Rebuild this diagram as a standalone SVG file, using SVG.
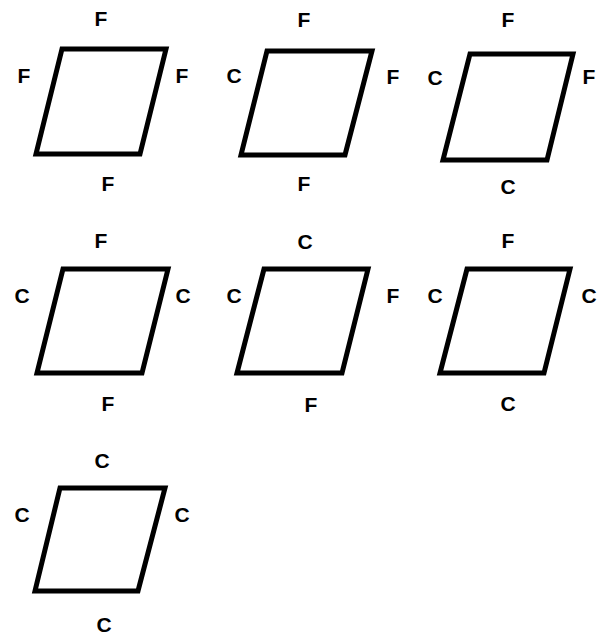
<svg xmlns="http://www.w3.org/2000/svg" width="599" height="635" viewBox="0 0 599 635">
<style>
.p{fill:none;stroke:#000;stroke-width:5;stroke-linejoin:miter}
.t{font-family:"Liberation Sans",Arial,sans-serif;font-weight:bold;font-size:21px;text-anchor:middle;fill:#000}
</style>
<rect width="599" height="635" fill="#fff"/>
<g id="tile1">
<polygon class="p" points="62,49 166,49 140,154 36,154"/>
<text class="t" x="101" y="26">F</text>
<text class="t" x="24" y="83">F</text>
<text class="t" x="182" y="83">F</text>
<text class="t" x="108" y="191">F</text>
</g>
<g id="tile2">
<polygon class="p" points="267,51 372,51 345,155 241,155"/>
<text class="t" x="304" y="27">F</text>
<text class="t" x="234" y="83">C</text>
<text class="t" x="393" y="84">F</text>
<text class="t" x="304" y="191">F</text>
</g>
<g id="tile3">
<polygon class="p" points="470,54 573,54 547,160 443,160"/>
<text class="t" x="508" y="27">F</text>
<text class="t" x="435" y="85">C</text>
<text class="t" x="589" y="84">F</text>
<text class="t" x="508" y="194">C</text>
</g>
<g id="tile4">
<polygon class="p" points="63,269 168,269 142,373 37,373"/>
<text class="t" x="101" y="248">F</text>
<text class="t" x="22" y="303">C</text>
<text class="t" x="183" y="303">C</text>
<text class="t" x="108" y="411">F</text>
</g>
<g id="tile5">
<polygon class="p" points="264,269 368,269 342,373 237,373"/>
<text class="t" x="305" y="249">C</text>
<text class="t" x="234" y="303">C</text>
<text class="t" x="393" y="303">F</text>
<text class="t" x="311" y="412">F</text>
</g>
<g id="tile6">
<polygon class="p" points="467,269 570,269 544,373 440,373"/>
<text class="t" x="508" y="248">F</text>
<text class="t" x="435" y="303">C</text>
<text class="t" x="589" y="303">C</text>
<text class="t" x="508" y="411">C</text>
</g>
<g id="tile7">
<polygon class="p" points="60,488 165,488 138,591 35,591"/>
<text class="t" x="102" y="468">C</text>
<text class="t" x="22" y="522">C</text>
<text class="t" x="182" y="522">C</text>
<text class="t" x="104" y="632">C</text>
</g>
<g id="connectors"></g>
</svg>
